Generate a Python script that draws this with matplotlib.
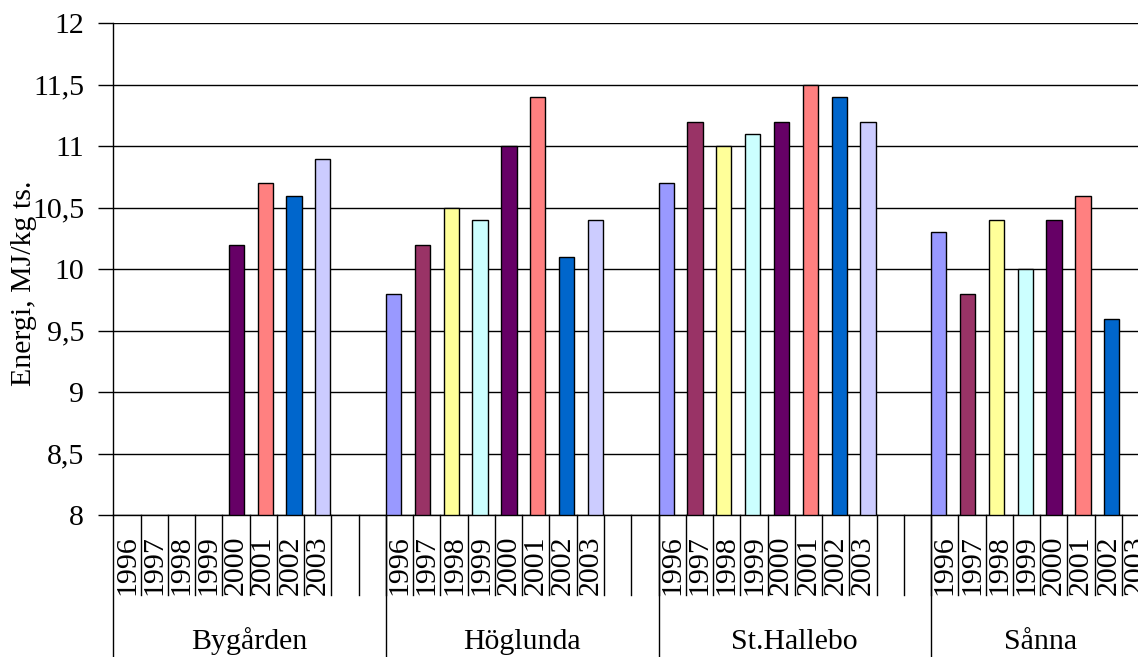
import matplotlib
matplotlib.use("Agg")
import matplotlib.pyplot as plt
import matplotlib.transforms as mtransforms
import numpy as np

plt.rcParams['font.family'] = ['Liberation Serif', 'DejaVu Serif']

# Energy content per site and year (NaN = no measurement)
sites = ["Bygården", "Höglunda", "St.Hallebo", "Sånna"]
years = ["1996", "1997", "1998", "1999", "2000", "2001", "2002", "2003"]
bygarden = [np.nan, np.nan, np.nan, np.nan, 10.2, 10.7, 10.6, 10.9]
hoglunda = [9.8, 10.2, 10.5, 10.4, 11.0, 11.4, 10.1, 10.4]
hallebo = [10.7, 11.2, 11.0, 11.1, 11.2, 11.5, 11.4, 11.2]
sanna = [10.3, 9.8, 10.4, 10.0, 10.4, 10.6, 9.6, np.nan]
year_colors = ["#9999FF", "#993366", "#FFFF99", "#CCFFFF",
               "#660066", "#FF8080", "#0066CC", "#CCCCFF"]
yticks = [8, 8.5, 9, 9.5, 10, 10.5, 11, 11.5, 12]

values = [bygarden, hoglunda, hallebo, sanna]

# layout in label-slot units: each site gets 8 year slots + 2 blank slots
group_slots = [10, 10, 10, 8]
bar_step = 1.058
bar_width = 0.56
FS = 21.5

W, H = 1138, 657
fig = plt.figure(figsize=(W / 100, H / 100), dpi=100)
x_left, x_right = 113.3, 113.3 + 38 * 27.26
y_top, y_bot = 23.3, 515.3
ax = fig.add_axes([x_left / W, 1 - y_bot / H, (x_right - x_left) / W, (y_bot - y_top) / H])

starts = np.concatenate([[0], np.cumsum(group_slots)[:-1]])
for g, vals in enumerate(values):
    for i, v in enumerate(vals):
        if np.isnan(v):
            continue
        ax.bar(starts[g] + i * bar_step, v - 8, bottom=8, width=bar_width, align='edge',
               color=year_colors[i], edgecolor='black', linewidth=1.0, zorder=3)

ax.set_xlim(0, sum(group_slots))
ax.set_ylim(8, 12)
ax.set_yticks(yticks)
ax.set_yticklabels([("%g" % t).replace(".", ",") for t in yticks], fontsize=FS)
ax.tick_params(axis='y', direction='out', length=11, width=1, pad=10)
ax.set_xticks([])
ax.grid(axis='y', color='black', linewidth=1, zorder=0)
ax.set_axisbelow(True)
for s in ['top', 'right']:
    ax.spines[s].set_visible(False)
ax.spines['left'].set_linewidth(1)
ax.spines['bottom'].set_linewidth(1)

# category label table under the axis
trans = mtransforms.blended_transform_factory(ax.transData, ax.transAxes)
ph = y_bot - y_top
short_len = (595 - y_bot) / ph
long_len = (H + 20 - y_bot) / ph
year_base = -(595 - y_bot) / ph
group_base = -(649 - y_bot) / ph
for g, n in enumerate(group_slots):
    s0 = starts[g]
    ax.plot([s0, s0], [0, -long_len], color='black', lw=1, transform=trans, clip_on=False)
    for k in range(1, n + 1):
        ax.plot([s0 + k, s0 + k], [0, -short_len], color='black', lw=1,
                transform=trans, clip_on=False)
    for i, yr in enumerate(years):
        ax.text(s0 + i + 0.5, year_base, yr, rotation=90, ha='center', va='bottom',
                fontsize=FS, transform=trans, clip_on=False)
    ax.text(s0 + n / 2, group_base, sites[g], ha='center', va='baseline',
            fontsize=FS, transform=trans, clip_on=False)

fig.text(24 / W, 1 - 283 / H, "Energi, MJ/kg ts.", rotation=90, ha='center', va='center',
         fontsize=FS)

fig.savefig("out.png", dpi=100)
